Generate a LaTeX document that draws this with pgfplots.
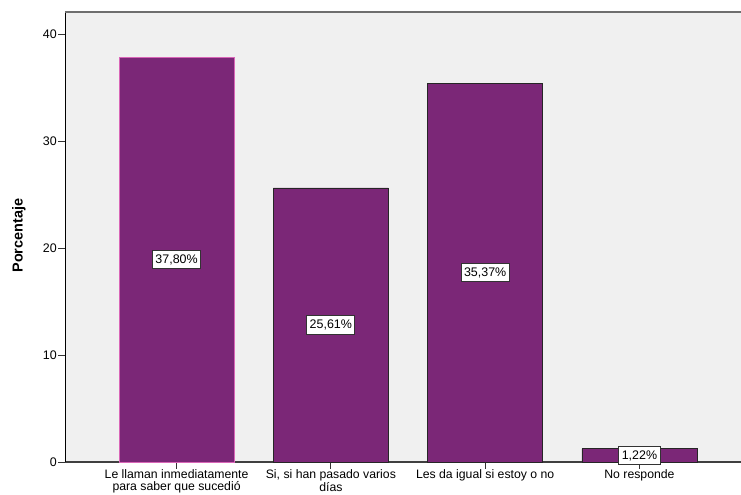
\documentclass[border=0pt]{standalone}
\usepackage{pgfplots}
\pgfplotsset{compat=1.18}
\usepackage{fontspec}
\setmainfont{Liberation Sans}
\definecolor{bg}{HTML}{F0F0F0}
\definecolor{barc}{HTML}{7B2777}
\definecolor{pinkedge}{HTML}{D966B8}
\definecolor{topline}{HTML}{6E6E6E}
\begin{document}
\begin{tikzpicture}
\useasboundingbox (-65bp,-33bp) rectangle (676bp,462bp);
\begin{axis}[
  at={(0,0)}, anchor=south west,
  scale only axis, width=676bp, height=450bp,
  xmin=-0.723, xmax=3.658, ymin=0, ymax=42.06,
  axis background/.style={fill=bg},
  axis x line*=bottom, axis y line*=left,
  axis line style={-, draw=black, line width=0.8bp},
  x axis line style={draw=black!75, line width=1.3bp},
  xtick={0,1,2,3},
  xticklabels={{Le llaman inmediatamente\\para saber que sucedió},{Si, si han pasado varios\\días},{Les da igual si estoy o no},{No responde}},
  ytick={0,10,20,30,40},
  tick align=outside, major tick length=6.5bp,
  tick style={draw=black!80, line width=0.9bp},
  xticklabel style={align=center, font=\fontsize{12.3}{11.5}\selectfont, inner sep=1bp, yshift=0bp},
  yticklabel style={font=\fontsize{12.5}{13}\selectfont, inner sep=1.5bp},
  /pgf/number format/assume math mode=true,
  ylabel={\textbf{Porcentaje}},
  every axis y label/.style={at={(rel axis cs:0,0.503)}, rotate=90, anchor=center, yshift=46bp, font=\fontsize{14.5}{16}\selectfont},
  clip=false,
]
\addplot[ybar, bar width=0.745, bar shift=0pt, fill=barc, draw=pinkedge, line width=0.8bp] coordinates {(0,37.80)};
\addplot[ybar, bar width=0.745, bar shift=0pt, fill=barc, draw=black!85, line width=0.9bp] coordinates {(1,25.61) (2,35.37) (3,1.22)};
\addplot[draw=none, mark=none, nodes near coords, point meta=explicit symbolic,
  every node near coord/.append style={anchor=center, fill=white, draw=black!80, line width=1bp, inner xsep=3bp, inner ysep=4bp, font=\fontsize{12.5}{13}\selectfont}]
  coordinates {(0,18.90)[37,80\%] (1,12.805)[25,61\%] (2,17.685)[35,37\%] (3,0.61)[1,22\%]};
\draw[topline, line width=2bp] (rel axis cs:0,1) -- (rel axis cs:1,1);
\end{axis}
\end{tikzpicture}
\end{document}
